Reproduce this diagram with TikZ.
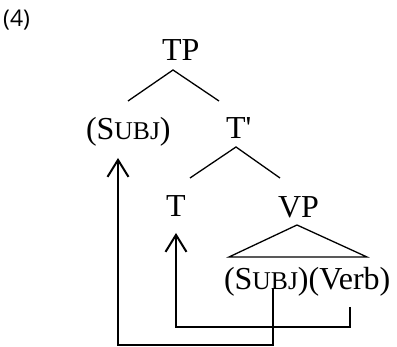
\documentclass[tikz,border=0pt]{standalone}
\usepackage{fontspec}
\setmainfont{Liberation Serif}
\newfontfamily\labelfont{Open Sans}
\usetikzlibrary{arrows.meta}
\newcommand\fakesc[1]{{\fontsize{25.6}{30}\selectfont #1}}
\begin{document}
\begin{tikzpicture}[x=1pt,y=-1pt,
  lab/.style={inner sep=0pt,outer sep=0pt,anchor=base west,font=\fontsize{32}{38}\selectfont},
  branch/.style={line width=1.3pt},
  move/.style={line width=2pt,-{Straight Barb[length=17pt,width=21pt,line width=2pt]}}]
\useasboundingbox (0,0) rectangle (397,347);
\node[inner sep=0pt,anchor=base west] (num) at (3,27) {\labelfont\fontsize{23}{27}\selectfont (4)};
\node[lab] (tp) at (162,61) {TP};
\node[lab] (subj) at (86,140) {(S\fakesc{UBJ})};
\node[lab] (tbar) at (226,139) {T\textquotesingle};
\node[lab] (t) at (166,217) {T};
\node[lab] (vp) at (278,218) {VP};
\node[lab] (bottom) at (224,290) {(S\fakesc{UBJ})(Verb)};
% branch points
\coordinate (tpb) at (173,70);
\coordinate (subjt) at (128,101);
\coordinate (tbart) at (219,101);
\coordinate (tbarb) at (236,147);
\coordinate (tt) at (190,178);
\coordinate (vpt) at (280,178);
\coordinate (tri) at (297,225);
\coordinate (tril) at (229,257);
\coordinate (trir) at (367,257);
\draw[branch] (subjt) -- (tpb) -- (tbart);
\draw[branch] (tt) -- (tbarb) -- (vpt);
\draw[branch] (tril) -- (tri) -- (trir) -- cycle;
% movement
\coordinate (s1) at (273,288);
\coordinate (s2) at (273,345);
\coordinate (s3) at (118,345);
\coordinate (s4) at (118,158);
\coordinate (v1) at (350,307);
\coordinate (v2) at (350,327);
\coordinate (v3) at (176,327);
\coordinate (v4) at (176,233);
\draw[move] (s1) -- (s2) -- (s3) -- (s4);
\draw[move] (v1) -- (v2) -- (v3) -- (v4);
\end{tikzpicture}
\end{document}
